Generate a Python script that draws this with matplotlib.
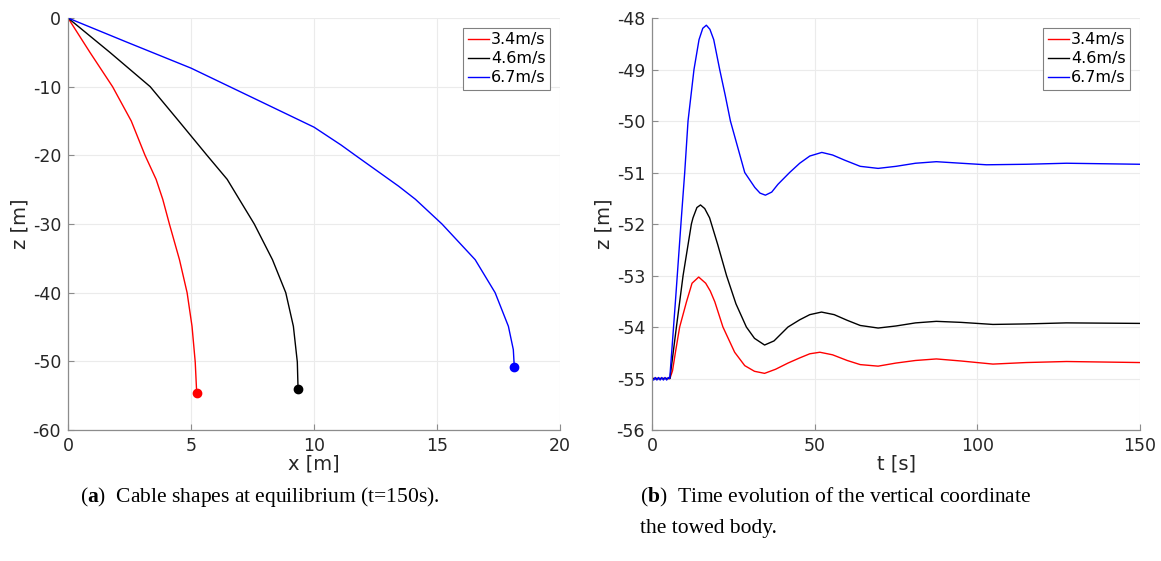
import matplotlib.pyplot as plt

plt.rcParams['axes.unicode_minus'] = False
plt.rcParams['font.family'] = 'DejaVu Sans'
plt.rcParams['mathtext.fontset'] = 'custom'
plt.rcParams['mathtext.rm'] = 'Liberation Serif'
plt.rcParams['mathtext.bf'] = 'Liberation Serif:bold'

# cable shapes at equilibrium (x [m], z [m])
red_x = [0, 0.89, 1.81, 2.57, 3.13, 3.58, 3.85, 4.12, 4.53, 4.84, 5.04, 5.17, 5.23]
red_z = [0, -5.0, -10.0, -15.0, -20.0, -23.5, -26.4, -30.0, -35.2, -40.0, -44.9, -50.1, -54.6]
black_x = [0, 1.70, 3.34, 4.5, 5.65, 6.47, 6.96, 7.57, 8.31, 8.85, 9.16, 9.32, 9.35]
black_z = [0, -5.0, -10.0, -15.0, -20.0, -23.5, -26.4, -30.0, -35.2, -40.0, -44.9, -50.1, -54.0]
blue_x = [0, 2.38, 5.0, 7.56, 10.0, 11.1, 11.68, 13.44, 14.12, 15.2, 16.55, 17.36, 17.9, 18.1, 18.14]
blue_z = [0, -3.5, -7.3, -11.7, -15.9, -18.5, -20.0, -24.5, -26.4, -30.0, -35.2, -40.0, -44.9, -48.3, -50.85]

# vertical coordinate of the towed body (t [s], z [m])
red_t = [0, 5.5, 6.3, 7.2, 8.5, 10.6, 12.3, 14.35, 16.5, 17.9, 19.3, 21.8, 25.4, 28.5, 31.5, 34.6,
         38, 41.8, 45.4, 48.5, 51.6, 55.5, 60, 64, 69.5, 75, 81, 87.4, 95, 104.8, 115, 127.4, 150]
red_v = [-55, -55, -54.85, -54.49, -54.0, -53.51, -53.15, -53.03, -53.15, -53.3, -53.51, -54.0, -54.49,
         -54.75, -54.86, -54.9, -54.82, -54.7, -54.6, -54.52, -54.49, -54.54, -54.65, -54.73, -54.76,
         -54.7, -54.65, -54.62, -54.66, -54.72, -54.69, -54.67, -54.69]
black_t = [0, 5.5, 6.5, 7.5, 9.55, 12.1, 12.6, 13.8, 14.9, 16.2, 17.7, 20.2, 22.9, 25.8, 29, 31.5, 34.6,
           37.5, 41.8, 45.4, 48.5, 52.1, 56, 60, 64, 69.5, 75, 81, 87.4, 95, 104.8, 115, 127.4, 150]
black_v = [-55, -55, -54.5, -54.0, -53.0, -52.0, -51.88, -51.68, -51.63, -51.7, -51.88, -52.4, -53.0,
           -53.55, -54.0, -54.22, -54.35, -54.27, -54.0, -53.86, -53.76, -53.71, -53.76, -53.87, -53.97,
           -54.02, -53.98, -53.92, -53.89, -53.91, -53.95, -53.94, -53.92, -53.93]
blue_t = [0, 0.5, 1, 1.5, 2, 2.5, 3, 3.5, 4, 4.5, 5, 5.45, 7.2, 9, 10.05, 11.07, 12.9, 14.45, 15.6, 16.7,
          17.8, 18.97, 20.8, 22.5, 24.1, 26.3, 28.5, 31.6, 33.2, 34.85, 36.8, 38.7, 42.3, 45.4, 48.5,
          52.2, 55.5, 59.2, 64, 69.5, 75, 81, 87.4, 95, 102.8, 115, 127.4, 150]
blue_v = [-55, -55.03, -54.98, -55.03, -54.98, -55.03, -54.98, -55.03, -54.98, -55.03, -54.98, -55,
          -53.5, -51.9, -51.0, -50.0, -49.0, -48.42, -48.2, -48.14, -48.22, -48.42, -49.0, -49.5, -50.0,
          -50.5, -51.0, -51.29, -51.4, -51.44, -51.38, -51.23, -51.0, -50.82, -50.68, -50.61, -50.66,
          -50.76, -50.88, -50.92, -50.88, -50.82, -50.79, -50.82, -50.85, -50.84, -50.82, -50.84]

labels = ['3.4m/s', '4.6m/s', '6.7m/s']
colors = ['red', 'black', 'blue']

txt_col = '#262626'
ax_col = '#8c8c8c'

fig = plt.figure(figsize=(11.61, 5.61), dpi=100)
ax1 = fig.add_axes([0.0586, 0.2335, 0.4238, 0.7344])
ax2 = fig.add_axes([0.5616, 0.2335, 0.4203, 0.7344])

for xs, zs, c, lab in zip([red_x, black_x, blue_x], [red_z, black_z, blue_z], colors, labels):
    ax1.plot(xs, zs, color=c, lw=1.0, label=lab)
    ax1.plot(xs[-1], zs[-1], 'o', color=c, ms=6)

for ts, vs, c, lab in zip([red_t, black_t, blue_t], [red_v, black_v, blue_v], colors, labels):
    ax2.plot(ts, vs, color=c, lw=1.0, label=lab)

ax1.set_xlim(0, 20)
ax1.set_ylim(-60, 0)
ax1.set_xticks([0, 5, 10, 15, 20])
ax1.set_yticks([-60, -50, -40, -30, -20, -10, 0])
ax1.set_xlabel('x [m]', fontsize=14, color=txt_col, labelpad=0)
ax1.set_ylabel('z [m]', fontsize=14, color=txt_col, labelpad=2)

ax2.set_xlim(0, 150)
ax2.set_ylim(-56, -48)
ax2.set_xticks([0, 50, 100, 150])
ax2.set_yticks(range(-56, -47))
ax2.set_xlabel('t [s]', fontsize=14, color=txt_col, labelpad=0)
ax2.set_ylabel('z [m]', fontsize=14, color=txt_col, labelpad=2)

for ax in (ax1, ax2):
    ax.grid(True, color='#ebebeb', lw=0.8)
    ax.set_axisbelow(True)
    ax.tick_params(labelsize=12.5, labelcolor=txt_col, color=ax_col, direction='in',
                   length=4, width=0.8, pad=5)
    for side in ('top', 'right'):
        ax.spines[side].set_visible(False)
    for side in ('left', 'bottom'):
        ax.spines[side].set_color(ax_col)
        ax.spines[side].set_linewidth(0.9)
    leg = ax.legend(loc='upper right', fontsize=11.5, handlelength=1.3, handletextpad=0.15,
                    borderpad=0.3, labelspacing=0.25, fancybox=False, framealpha=1,
                    borderaxespad=0.6)
    leg.get_frame().set_edgecolor('#808080')
    leg.get_frame().set_linewidth(0.8)

cap = dict(fontsize=15.5, family='Liberation Serif', color='black', va='center')
fig.text(80 / 1161, 1 - 497 / 561, r'($\mathbf{a}$)  Cable shapes at equilibrium (t=150s).', **cap)
fig.text(640 / 1161, 1 - 497 / 561, r'($\mathbf{b}$)  Time evolution of the vertical coordinate', **cap)
fig.text(640 / 1161, 1 - 528 / 561, 'the towed body.', **cap)

fig.savefig('out.png', dpi=100)
